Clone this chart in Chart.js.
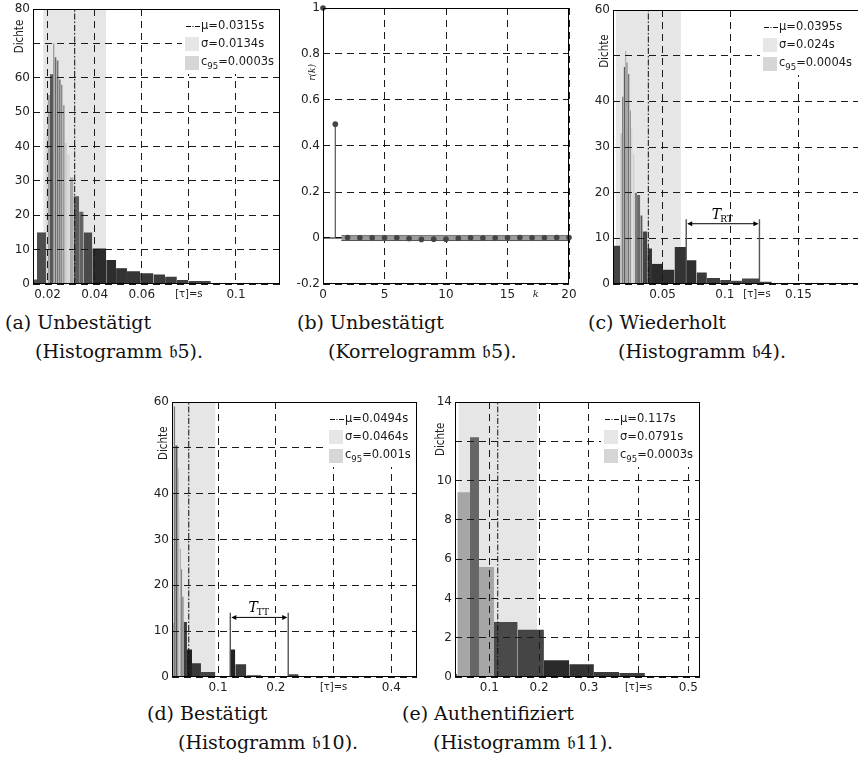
<!DOCTYPE html>
<html lang="de">
<head>
<meta charset="utf-8">
<title>Antwortzeiten</title>
<script src="https://cdn.jsdelivr.net/npm/chart.js@4.4.1/dist/chart.umd.min.js"></script>
<style>
  html, body { margin:0; padding:0; background:#fff; width:858px; height:767px; overflow:hidden; }
  canvas { position:absolute; }
  .cap { position:absolute; font-family:"DejaVu Serif", "Liberation Serif", serif; font-size:19px;
         line-height:22px; white-space:nowrap; color:#111; }
</style>
</head>
<body>
<canvas id="histA" width="290" height="305" style="left:0;top:0"></canvas>
<canvas id="corrB" width="290" height="305" style="left:290px;top:0"></canvas>
<canvas id="histC" width="300" height="305" style="left:580px;top:0"></canvas>
<canvas id="histD" width="290" height="305" style="left:140px;top:393px"></canvas>
<canvas id="histE" width="290" height="305" style="left:423px;top:393px"></canvas>

<div class="cap" style="left:5px;top:311px">(a) Unbestätigt</div>
<div class="cap" style="left:35px;top:340px">(Histogramm 𝔟5).</div>
<div class="cap" style="left:297px;top:311px">(b) Unbestätigt</div>
<div class="cap" style="left:328px;top:340px">(Korrelogramm 𝔟5).</div>
<div class="cap" style="left:588px;top:311px">(c) Wiederholt</div>
<div class="cap" style="left:618px;top:340px">(Histogramm 𝔟4).</div>
<div class="cap" style="left:147px;top:702px">(d) Bestätigt</div>
<div class="cap" style="left:178px;top:731px">(Histogramm 𝔟10).</div>
<div class="cap" style="left:402px;top:702px">(e) Authentifiziert</div>
<div class="cap" style="left:433px;top:731px">(Histogramm 𝔟11).</div>

<script>
// ---------------- data ----------------

// (a) unconfirmed, histogram b5: bin edges [s], densities, bar shades
const edgesA = [0.0138, 0.0155, 0.0193, 0.0200, 0.0210, 0.0224, 0.0229, 0.0238, 0.0247, 0.0256,
                0.0264, 0.0273, 0.0283, 0.0294, 0.0310, 0.0334, 0.0353, 0.0390, 0.0449, 0.0491,
                0.0537, 0.0593, 0.0650, 0.0699, 0.0749, 0.0798, 0.0893, 0.1187];
const densA  = [1.3, 15, 44, 55, 61, 70, 66, 65, 59.5, 58, 52, 41, 37.5, 31, 25.5, 21, 15, 10.3,
                7, 4.6, 3.7, 3.1, 2.8, 2.1, 1.2, 0.9, 0.3];
const muA = 0.0315, sigmaA = 0.0134, c95A = 0.0003;
const xTicksA  = [0.02, 0.04, 0.06, 0.08, 0.1];
const xLabelsA = ['0.02', '0.04', '0.06', '[τ]=s', '0.1'];
const yTicksA  = [0, 10, 20, 30, 40, 50, 60, 70, 80];
const yLabelsA = ['0', '10', '20', '30', '40', '50', '60', '', '80'];

// (b) unconfirmed, correlogram b5: lag k and autocorrelation r(k)
const lagsB = [0, 1, 2, 3, 4, 5, 6, 7, 8, 9, 10, 11, 12, 13, 14, 15, 16, 17, 18, 19, 20];
const corrB = [1, 0.495, 0.002, 0.001, 0.001, 0.001, 0.001, -0.002, -0.006, -0.005, -0.005,
               -0.001, 0.001, 0.000, 0.000, 0.001, 0.002, 0.001, 0.001, 0.002, 0.002];
const confB = 0.011;
const xTicksB  = [0, 5, 10, 15, 17.3, 20];
const xLabelsB = ['0', '5', '10', '15', 'k', '20'];
const yTicksB  = [-0.2, 0, 0.2, 0.4, 0.6, 0.8, 1];
const yLabelsB = ['-0.2', '0', '0.2', '0.4', '0.6', '0.8', '1'];

// (c) repeated, histogram b4
const edgesC = [0.0135, 0.0189, 0.0202, 0.0213, 0.0226, 0.0233, 0.0243, 0.0257, 0.0268, 0.0279,
                0.0294, 0.0312, 0.0336, 0.0353, 0.0388, 0.0422, 0.0503, 0.0588, 0.0674, 0.0750,
                0.0826, 0.0924, 0.1003, 0.1084, 0.1213, 0.1304, 0.1463, 0.1600, 0.1990];
const densC  = [8.4, 33, 41, 47.5, 51, 48.5, 46, 38, 34, 28.5, 20, 19.5, 15, 11.5, 7.8, 4.4, 3.1,
                8.1, 5.2, 2.5, 1.3, 0.9, 0.7, 1.2, 0.5, 0.2, 0.1, 0.1];
const muC = 0.0395, sigmaC = 0.024, c95C = 0.0004;
const xTicksC  = [0.05, 0.1, 0.1195, 0.15];
const xLabelsC = ['0.05', '0.1   ', '[τ]=s', '0.15'];
const yTicksC  = [0, 10, 20, 30, 40, 50, 60];
const yLabelsC = ['0', '10', '20', '30', '40', '', '60'];
const spanC = { from: 0.0674, to: 0.1213, top: 14.2, arrow: 13.2, name: 'RT' };

// (d) confirmed, histogram b10
const edgesD = [0.0204, 0.0232, 0.0261, 0.0302, 0.0319, 0.0336, 0.0359, 0.0382, 0.0405, 0.0463,
                0.0550, 0.0705, 0.0953, 0.1201, 0.1299, 0.1490, 0.1749, 0.2211, 0.2395, 0.4443];
const densD  = [11.8, 59, 50.5, 45.5, 37, 28, 23.5, 17.5, 12, 6, 3, 1.1, 0, 6, 2.8, 0.4, 0.1, 0.6, 0.05];
const muD = 0.0494, sigmaD = 0.0464, c95D = 0.001;
const xTicksD  = [0.1, 0.2, 0.3, 0.4];
const xLabelsD = ['0.1', '0.2', '[τ]=s', '0.4'];
const yTicksD  = [0, 10, 20, 30, 40, 50, 60];
const yLabelsD = ['0', '10', '20', '30', '40', '', '60'];
const spanD = { from: 0.1213, to: 0.2215, top: 14, arrow: 13, name: 'TT' };

// (e) authenticated, histogram b11
const edgesE = [0.0311, 0.0358, 0.0612, 0.0793, 0.1094, 0.1570, 0.2098, 0.2607, 0.3102, 0.3611,
                0.4127, 0.5030, 0.5234];
const densE  = [0.15, 9.4, 12.2, 5.6, 2.8, 2.4, 0.85, 0.65, 0.25, 0.2, 0.05, 0.03];
const muE = 0.117, sigmaE = 0.0791, c95E = 0.0003;
const xTicksE  = [0.1, 0.2, 0.3, 0.4, 0.5];
const xLabelsE = ['0.1', '0.2', '0.3', '[τ]=s', '0.5'];
const yTicksE  = [0, 2, 4, 6, 8, 10, 12, 14];
const yLabelsE = ['0', '2', '4', '6', '8', '10', '', '14'];

// bar shades (grey levels per bin)
const shadeA = ['#555', '#4d4d4d', '#d4d4d4', '#a0a0a0', '#585858', '#666', '#6b6b6b', '#737373',
                '#7d7d7d', '#8a8a8a', '#9a9a9a', '#cfcfcf', '#d8d8d8', '#a8a8a8', '#5c5c5c', '#636363',
                '#4a4a4a', '#2b2b2b', '#2d2d2d', '#333', '#363636', '#383838', '#3b3b3b', '#3e3e3e',
                '#404040', '#444', '#444'];
const shadeC = ['#444', '#bdbdbd', '#6a6a6a', '#5e5e5e', '#666', '#6a6a6a', '#777', '#999', '#d6d6d6',
                '#cfcfcf', '#7a7a7a', '#6a6a6a', '#5a5a5a', '#444', '#333', '#2b2b2b', '#2e2e2e',
                '#333', '#2e2e2e', '#3a3a3a', '#3e3e3e', '#444', '#444', '#444', '#444', '#444', '#444', '#444'];
const shadeD = ['#555', '#777', '#555', '#8a8a8a', '#c8c8c8', '#aaa', '#888', '#555', '#3c3c3c', '#222',
                '#3a3a3a', '#444', '#444', '#222', '#3a3a3a', '#444', '#444', '#444', '#444'];
const shadeE = ['#555', '#a6a6a6', '#666', '#a6a6a6', '#4a4a4a', '#454545', '#2a2a2a', '#333', '#3a3a3a',
                '#3e3e3e', '#444', '#444'];

// ---------------- drawing helpers ----------------
const SANS = '"DejaVu Sans", sans-serif';
const SERIF = '"DejaVu Serif", serif';
const NARROW = '"Liberation Sans Narrow", "DejaVu Sans Condensed", sans-serif';
const TICK_FONT = { family: SANS, size: 12 };
const GRID = '#1a1a1a';
const CLEAR = 'rgba(0,0,0,0)';
const DASH = [7, 5];
const DASHDOT = [6, 2, 1.5, 2];

function frame(chart) {
  const { ctx, chartArea: a } = chart;
  ctx.save();
  ctx.setLineDash([]);
  ctx.strokeStyle = '#000';
  ctx.lineWidth = 1;
  ctx.strokeRect(Math.round(a.left) + 0.5, Math.round(a.top) + 0.5,
                 Math.round(a.right - a.left) - 1, Math.round(a.bottom - a.top) - 1);
  ctx.restore();
}

function yTitle(chart, text, value, gap, font) {
  const { ctx, chartArea: a, scales: { y } } = chart;
  ctx.save();
  ctx.translate(a.left - gap, y.getPixelForValue(value));
  ctx.rotate(-Math.PI / 2);
  ctx.font = font;
  ctx.fillStyle = '#222';
  ctx.textAlign = 'center';
  ctx.textBaseline = 'middle';
  ctx.fillText(text, 0, 0);
  ctx.restore();
}

function statsLegend(chart, p) {
  const { ctx, chartArea: a } = chart;
  const main = '11.5px ' + SANS, sub = '8.5px ' + SANS;
  const bx = a.right - p.legendLeft;       // left edge of the key symbols
  const tx = bx + 16;                       // text column
  const top = a.top;
  ctx.save();
  ctx.setLineDash([]);
  ctx.fillStyle = '#fff';
  ctx.fillRect(bx - 3, top + 1, a.right - bx + 2, 64);

  // mean: dash-dot sample
  ctx.strokeStyle = '#111';
  ctx.lineWidth = 1;
  ctx.setLineDash([5, 1.5, 1, 1.5]);
  ctx.beginPath();
  ctx.moveTo(bx + 1, top + 17.5);
  ctx.lineTo(bx + 15, top + 17.5);
  ctx.stroke();
  ctx.setLineDash([]);

  // sigma and confidence keys
  ctx.fillStyle = '#e6e6e6';
  ctx.fillRect(bx, top + 28, 14, 14);
  ctx.fillStyle = '#d6d6d6';
  ctx.fillRect(bx, top + 47, 14, 14);

  ctx.fillStyle = '#1a1a1a';
  ctx.textBaseline = 'middle';
  ctx.font = main;
  ctx.fillText('μ=' + p.mu + 's', tx, top + 17);
  ctx.fillText('σ=' + p.sigma + 's', tx, top + 35);
  ctx.fillText('c', tx, top + 53);
  const wc = ctx.measureText('c').width;
  ctx.font = sub;
  ctx.fillText('95', tx + wc, top + 57.5);
  const w95 = ctx.measureText('95').width;
  ctx.font = main;
  ctx.fillText('=' + p.c95 + 's', tx + wc + w95, top + 53);
  ctx.restore();
}

function timeSpan(chart, s) {
  const { ctx, scales: { x, y } } = chart;
  const x0 = x.getPixelForValue(s.from), x1 = x.getPixelForValue(s.to);
  const yb = y.getPixelForValue(0), yt = y.getPixelForValue(s.top), ya = y.getPixelForValue(s.arrow);
  ctx.save();
  ctx.setLineDash([]);
  ctx.strokeStyle = '#555';
  ctx.lineWidth = 1.4;
  ctx.beginPath();
  ctx.moveTo(x0, yb); ctx.lineTo(x0, yt);
  ctx.moveTo(x1, yb); ctx.lineTo(x1, yt);
  ctx.stroke();
  ctx.strokeStyle = '#000';
  ctx.lineWidth = 1;
  ctx.beginPath();
  ctx.moveTo(x0 + 2, ya); ctx.lineTo(x1 - 2, ya);
  ctx.stroke();
  ctx.fillStyle = '#000';
  ctx.beginPath();
  ctx.moveTo(x0 + 1, ya); ctx.lineTo(x0 + 6, ya - 2.5); ctx.lineTo(x0 + 6, ya + 2.5); ctx.closePath();
  ctx.moveTo(x1 - 1, ya); ctx.lineTo(x1 - 6, ya - 2.5); ctx.lineTo(x1 - 6, ya + 2.5); ctx.closePath();
  ctx.fill();
  // label T with subscript
  ctx.font = 'italic 14px ' + SERIF;
  const wT = ctx.measureText('T').width;
  ctx.font = '9px ' + SERIF;
  const wS = ctx.measureText(s.name).width;
  const start = (x0 + x1) / 2 - (wT + wS) / 2;
  ctx.textBaseline = 'alphabetic';
  ctx.font = 'italic 14px ' + SERIF;
  ctx.fillText('T', start, ya - 5);
  ctx.font = '9px ' + SERIF;
  ctx.fillText(s.name, start + wT - 1, ya - 2);
  ctx.restore();
}

function xAxis(min, max, ticks, labels, height, bare, gridZ) {
  return {
    type: 'linear', min, max,
    afterBuildTicks: s => { s.ticks = ticks.map(v => ({ value: v })); },
    afterFit: s => { s.height = height; s.paddingLeft = 0; s.paddingRight = 0; },
    ticks: {
      autoSkip: false, maxRotation: 0, minRotation: 0, padding: 4, color: '#222',
      callback: (v, i) => labels[i],
      font: c => {
        const lab = labels[c.index];
        if (lab === 'k') return { family: SERIF, size: 10, style: 'italic' };
        if (lab && lab.startsWith('[')) return { family: SANS, size: 10 };
        return TICK_FONT;
      }
    },
    grid: {
      z: gridZ, drawTicks: false, lineWidth: 1,
      color: c => (c.tick && bare.includes(c.tick.value)) ? CLEAR : GRID
    },
    border: { display: false, dash: DASH }
  };
}

function yAxis(min, max, ticks, labels, width, gridZ) {
  return {
    type: 'linear', min, max,
    afterBuildTicks: s => { s.ticks = ticks.map(v => ({ value: v })); },
    afterFit: s => { s.width = width; s.paddingTop = 0; s.paddingBottom = 0; },
    ticks: { autoSkip: false, padding: 3, color: '#222', font: TICK_FONT, callback: (v, i) => labels[i] },
    grid: { z: gridZ, drawTicks: false, lineWidth: 1, color: GRID },
    border: { display: false, dash: DASH }
  };
}

function flat(x0, x1, y) { return [{ x: x0, y }, { x: x1, y }]; }

function histogram(id, p) {
  const sets = [];
  // spread band mu ± sigma and confidence band mu ± c95
  sets.push({ data: flat(p.mu - p.sigma, p.mu + p.sigma, p.yMax), fill: 'origin',
              backgroundColor: '#e6e6e6', borderWidth: 0, borderColor: CLEAR, pointRadius: 0, order: 10 });
  sets.push({ data: flat(p.mu - p.c95, p.mu + p.c95, p.yMax), fill: 'origin',
              backgroundColor: '#d6d6d6', borderWidth: 0, borderColor: CLEAR, pointRadius: 0, order: 9 });
  // histogram bins
  p.dens.forEach((h, i) => {
    if (h <= 0) return;
    sets.push({ data: flat(p.edges[i], p.edges[i + 1], h), fill: 'origin',
                backgroundColor: p.shade[i], borderWidth: 0, borderColor: CLEAR, pointRadius: 0, order: 5 });
  });
  // mean
  sets.push({ data: [{ x: p.mu, y: 0 }, { x: p.mu, y: p.yMax }], fill: false, borderColor: '#111',
              borderWidth: 1, borderDash: DASHDOT, pointRadius: 0, order: 1 });

  return new Chart(document.getElementById(id), {
    type: 'line',
    data: { datasets: sets },
    options: {
      responsive: false, animation: false, devicePixelRatio: 1,
      layout: { autoPadding: false, padding: { top: p.padTop, right: p.padRight, left: 0, bottom: 0 } },
      plugins: { legend: { display: false }, tooltip: { enabled: false } },
      scales: {
        x: xAxis(p.xMin, p.xMax, p.xTicks, p.xLabels, 21, p.bare || [], 1),
        y: yAxis(0, p.yMax, p.yTicks, p.yLabels, p.yWidth, 1)
      }
    },
    plugins: [{
      id: 'decor',
      afterDraw(chart) {
        statsLegend(chart, p);
        if (p.span) timeSpan(chart, p.span);
        frame(chart);
        yTitle(chart, 'Dichte', p.titleAt, p.titleGap, '11.5px ' + NARROW);
      }
    }]
  });
}

// ---------------- panels ----------------
histogram('histA', {
  edges: edgesA, dens: densA, shade: shadeA, mu: muA, sigma: sigmaA, c95: c95A,
  xMin: 0.0138, xMax: 0.1187, yMax: 80, xTicks: xTicksA, xLabels: xLabelsA, yTicks: yTicksA, yLabels: yLabelsA,
  padTop: 9, padRight: 10, yWidth: 33, legendLeft: 95, titleAt: 72, titleGap: 13
});

histogram('histC', {
  edges: edgesC, dens: densC, shade: shadeC, mu: muC, sigma: sigmaC, c95: c95C,
  xMin: 0.0135, xMax: 0.199, yMax: 60, xTicks: xTicksC, xLabels: xLabelsC, yTicks: yTicksC, yLabels: yLabelsC,
  bare: [0.1195], span: spanC,
  padTop: 10, padRight: 15, yWidth: 33, legendLeft: 102, titleAt: 51, titleGap: 8
});

histogram('histD', {
  edges: edgesD, dens: densD, shade: shadeD, mu: muD, sigma: sigmaD, c95: c95D,
  xMin: 0.0204, xMax: 0.4443, yMax: 60, xTicks: xTicksD, xLabels: xLabelsD, yTicks: yTicksD, yLabels: yLabelsD,
  span: spanD,
  padTop: 9, padRight: 13, yWidth: 32, legendLeft: 88, titleAt: 51, titleGap: 8
});

histogram('histE', {
  edges: edgesE, dens: densE, shade: shadeE, mu: muE, sigma: sigmaE, c95: c95E,
  xMin: 0.0311, xMax: 0.5234, yMax: 14, xTicks: xTicksE, xLabels: xLabelsE, yTicks: yTicksE, yLabels: yLabelsE,
  padTop: 9, padRight: 13, yWidth: 32, legendLeft: 96, titleAt: 12.1, titleGap: 13.5
});

// correlogram: stems from zero to r(k), dots at r(k), confidence band around zero
const stemPoints = [];
lagsB.forEach((k, i) => { stemPoints.push({ x: k, y: 0 }, { x: k, y: corrB[i] }, { x: k, y: null }); });

new Chart(document.getElementById('corrB'), {
  type: 'line',
  data: {
    datasets: [
      { data: lagsB.map((k, i) => ({ x: k, y: corrB[i] })), showLine: false, pointRadius: 2.8,
        pointBackgroundColor: '#444', pointBorderWidth: 0, clip: false, order: 1 },
      { data: stemPoints, borderColor: '#555', borderWidth: 1.2, pointRadius: 0, spanGaps: false, order: 2 },
      { data: flat(1.5, 20, confB), fill: '+1', backgroundColor: '#9a9a9a', borderColor: '#777',
        borderWidth: 1, pointRadius: 0, order: 3 },
      { data: flat(1.5, 20, -confB), fill: false, borderColor: '#111', borderWidth: 1, pointRadius: 0, order: 3 },
      { data: flat(0, 20, 0), fill: false, borderColor: '#000', borderWidth: 1.2, pointRadius: 0, order: 4 }
    ]
  },
  options: {
    responsive: false, animation: false, devicePixelRatio: 1,
    layout: { autoPadding: false, padding: { top: 8, right: 11, left: 0, bottom: 0 } },
    plugins: { legend: { display: false }, tooltip: { enabled: false } },
    scales: {
      x: xAxis(0, 20, xTicksB, xLabelsB, 21, [17.3], -1),
      y: yAxis(-0.2, 1, yTicksB, yLabelsB, 33, -1)
    }
  },
  plugins: [{
    id: 'decor',
    afterDraw(chart) {
      frame(chart);
      yTitle(chart, 'r(k)', 0.72, 10, 'italic 9px ' + SERIF);
    }
  }]
});
</script>
</body>
</html>
